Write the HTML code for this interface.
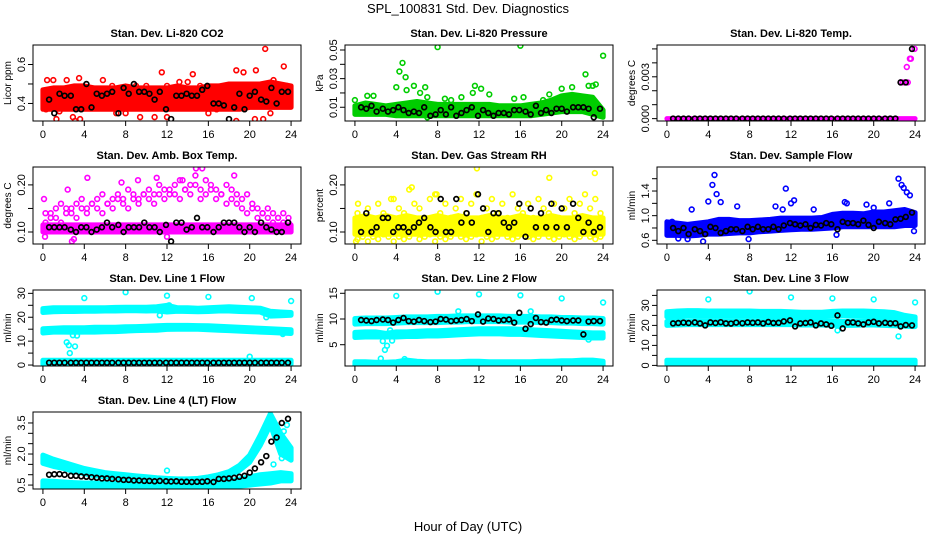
<!DOCTYPE html>
<html><head><meta charset="utf-8"><title>SPL_100831 Std. Dev. Diagnostics</title>
<style>
html,body{margin:0;padding:0;background:#fff;}
svg{display:block;font-family:"Liberation Sans",Arial,sans-serif;}
</style></head>
<body>
<svg id="chart" width="936" height="540" viewBox="0 0 936 540" xmlns="http://www.w3.org/2000/svg">
<rect x="0" y="0" width="936" height="540" fill="#fff"/>
<text x="468" y="13" text-anchor="middle" font-size="13">SPL_100831  Std. Dev. Diagnostics</text>
<text x="468" y="531" text-anchor="middle" font-size="13">Hour of Day (UTC)</text>
</svg>
<script>
// ---- shared time grids ----
const hourGrid = [0,1,2,3,4,5,6,7,8,9,10,11,12,13,14,15,16,17,18,19,20,21,22,23,24];
const hoursK = [0.6,1.1,1.6,2.1,2.7,3.2,3.7,4.2,4.7,5.2,5.7,6.2,6.7,7.3,7.8,8.3,8.8,9.3,9.8,10.3,10.8,11.3,11.9,12.4,12.9,13.4,13.9,14.4,14.9,15.4,15.9,16.5,17.0,17.5,18.0,18.5,19.0,19.5,20.0,20.5,21.1,21.6,22.1,22.6,23.1,23.7];
const halfGrid = [0.25,0.75,1.25,1.75,2.25,2.75,3.25,3.75,4.25,4.75,5.25,5.75,6.25,6.75,7.25,7.75,8.25,8.75,9.25,9.75,10.25,10.75,11.25,11.75,12.25,12.75,13.25,13.75,14.25,14.75,15.25,15.75,16.25,16.75,17.25,17.75,18.25,18.75,19.25,19.75,20.25,20.75,21.25,21.75,22.25,22.75,23.25,23.75];
const xTicks = [0,4,8,12,16,20,24];

// ---- CO2 ----
const co2Lo = [0.37,0.37,0.37,0.37,0.37,0.37,0.37,0.37,0.37,0.37,0.37,0.37,0.37,0.37,0.37,0.37,0.37,0.37,0.37,0.37,0.38,0.38,0.38,0.38,0.38];
const co2Hi = [0.47,0.48,0.48,0.49,0.49,0.48,0.48,0.48,0.49,0.48,0.48,0.48,0.48,0.49,0.48,0.48,0.49,0.49,0.50,0.50,0.50,0.50,0.51,0.50,0.49];
const co2OutX = [0.3,0.4,1,2.3,3.5,5.8,7.1,6.7,9,10,11.5,12,13.2,14,14.5,15.2,18.7,19.4,20.6,21.5,21.3,22.3,23.3,23.6,1.3,3.1,3.6,17.8,18.7,20.5,16,1.6,9.4,10.8,12,2.9,22,16.8,8];
const co2OutY = [0.37,0.52,0.52,0.52,0.53,0.52,0.35,0.49,0.49,0.49,0.56,0.49,0.51,0.51,0.55,0.49,0.57,0.56,0.57,0.68,0.32,0.52,0.59,0.49,0.32,0.31,0.32,0.29,0.31,0.32,0.35,0.36,0.33,0.33,0.33,0.33,0.35,0.37,0.35];
const co2K = [0.42,0.35,0.45,0.44,0.44,0.37,0.37,0.50,0.38,0.45,0.44,0.45,0.46,0.35,0.48,0.45,0.50,0.46,0.46,0.45,0.42,0.46,0.37,0.32,0.44,0.44,0.45,0.44,0.44,0.47,0.49,0.40,0.40,0.39,0.32,0.38,0.45,0.37,0.44,0.46,0.42,0.41,0.48,0.40,0.46,0.46];

// ---- Pressure ----
const presLo = [0.005,0.005,0.005,0.005,0.004,0.004,0.004,0.004,0.004,0.004,0.004,0.004,0.004,0.004,0.004,0.004,0.004,0.004,0.005,0.006,0.007,0.007,0.007,0.005,0.003];
const presHi = [0.011,0.013,0.012,0.011,0.012,0.013,0.014,0.013,0.012,0.012,0.012,0.012,0.012,0.012,0.011,0.011,0.011,0.012,0.013,0.015,0.018,0.019,0.018,0.017,0.008];
const presOutX = [0,1.2,1.8,4,4.3,4.6,4.9,5,5.7,6.3,6.8,7,8,8.7,9.3,10.3,11.4,11.6,12.2,13,15.4,16,16.3,18.2,18.8,20,21,22.3,22.6,23,23.3,24,0.6,7];
const presOutY = [0.015,0.018,0.018,0.024,0.035,0.041,0.031,0.022,0.025,0.02,0.024,0.017,0.052,0.016,0.015,0.017,0.02,0.025,0.023,0.019,0.016,0.053,0.017,0.015,0.019,0.023,0.024,0.033,0.025,0.025,0.026,0.046,0.007,0.003];
const presK = [0.010,0.009,0.011,0.007,0.009,0.007,0.008,0.010,0.008,0.006,0.007,0.006,0.010,0.004,0.005,0.008,0.005,0.010,0.004,0.006,0.008,0.010,0.004,0.008,0.006,0.004,0.006,0.006,0.005,0.008,0.008,0.007,0.005,0.011,0.006,0.008,0.006,0.009,0.009,0.007,0.010,0.010,0.010,0.009,0.003,0.009];

// ---- Li-820 Temp ----
const tmpLo = [0,0,0,0,0,0,0,0,0,0,0,0,0,0,0,0,0,0,0,0,0,0,0,0,0];
const tmpHi = [0,0,0,0,0,0,0,0,0,0,0,0,0,0,0,0,0,0,0,0,0,0,0,0,0];
const tmpOutX = [22.6,22.8,23.0,23.2,23.3,23.5,23.6,23.95];
const tmpOutY = [0.0026,0.0026,0.0026,0.0037,0.0026,0.0043,0.0043,0.005];
const tmpK = [0,0,0,0,0,0,0,0,0,0,0,0,0,0,0,0,0,0,0,0,0,0,0,0,0,0,0,0,0,0,0,0,0,0,0,0,0,0,0,0,0,0,0,0.0026,0.0026,0.005];

// ---- Amb Box Temp ----
const ambLo = [0.10,0.10,0.10,0.10,0.10,0.10,0.10,0.10,0.10,0.10,0.10,0.10,0.10,0.10,0.10,0.10,0.10,0.10,0.10,0.10,0.10,0.10,0.10,0.10,0.10];
const ambHi = [0.115,0.115,0.115,0.115,0.115,0.115,0.115,0.115,0.115,0.115,0.115,0.115,0.115,0.115,0.115,0.115,0.115,0.115,0.115,0.115,0.115,0.115,0.115,0.115,0.115];
const ambU1 = [0.14,0.13,0.15,0.16,0.14,0.15,0.16,0.17,0.15,0.16,0.17,0.18,0.16,0.17,0.18,0.17,0.19,0.18,0.17,0.18,0.19,0.18,0.20,0.19,0.18,0.20,0.21,0.19,0.20,0.22,0.19,0.21,0.20,0.19,0.18,0.20,0.19,0.18,0.17,0.18,0.16,0.15,0.14,0.15,0.14,0.13,0.14,0.13];
const ambU2 = [0.12,0.14,0.13,0.12,0.15,0.14,0.13,0.15,0.14,0.16,0.15,0.14,0.16,0.15,0.17,0.16,0.15,0.17,0.16,0.18,0.17,0.16,0.18,0.17,0.19,0.18,0.17,0.19,0.18,0.20,0.17,0.18,0.19,0.17,0.18,0.16,0.17,0.16,0.15,0.14,0.15,0.13,0.14,0.13,0.12,0.13,0.12,0.12];
const ambOutX = [0.2,3,2.8,12,4.3,7.6,14.8,15.4,18.5,2.4,0.1,9.2,11,13.5];
const ambOutY = [0.09,0.085,0.08,0.09,0.215,0.205,0.235,0.235,0.22,0.19,0.17,0.21,0.215,0.21];
const ambK = [0.11,0.11,0.11,0.11,0.105,0.10,0.11,0.11,0.10,0.105,0.11,0.12,0.11,0.115,0.10,0.11,0.11,0.11,0.12,0.11,0.11,0.10,0.115,0.08,0.12,0.12,0.105,0.11,0.13,0.11,0.11,0.10,0.11,0.12,0.12,0.12,0.11,0.10,0.11,0.10,0.12,0.11,0.105,0.10,0.10,0.12];

// ---- Gas Stream RH ----
const rhLo = [0.095,0.095,0.095,0.095,0.095,0.095,0.095,0.095,0.095,0.095,0.095,0.095,0.095,0.095,0.095,0.095,0.095,0.095,0.095,0.095,0.095,0.095,0.095,0.095,0.095];
const rhHi = [0.13,0.135,0.13,0.135,0.13,0.135,0.13,0.13,0.135,0.13,0.135,0.13,0.13,0.135,0.13,0.13,0.135,0.13,0.13,0.135,0.13,0.13,0.135,0.13,0.13];
const rhA = [0.14,0.13,0.15,0.12,0.16,0.14,0.13,0.17,0.15,0.14,0.19,0.16,0.15,0.13,0.17,0.18,0.14,0.16,0.13,0.15,0.17,0.14,0.16,0.18,0.13,0.15,0.17,0.14,0.16,0.13,0.18,0.15,0.14,0.16,0.13,0.17,0.15,0.14,0.16,0.13,0.15,0.17,0.14,0.16,0.18,0.15,0.17,0.14];
const rhB = [0.085,0.09,0.08,0.09,0.085,0.095,0.09,0.08,0.09,0.085,0.09,0.10,0.085,0.09,0.095,0.08,0.09,0.085,0.09,0.10,0.09,0.085,0.09,0.095,0.08,0.09,0.085,0.09,0.10,0.09,0.085,0.09,0.095,0.09,0.085,0.09,0.10,0.09,0.085,0.09,0.095,0.09,0.085,0.09,0.10,0.09,0.085,0.09];
const rhOutX = [11.8,23.2,18.8,5.5,3.5,7.9,0.3,0.1];
const rhOutY = [0.235,0.225,0.215,0.195,0.17,0.18,0.16,0.08];
const rhK = [0.10,0.14,0.10,0.11,0.13,0.13,0.10,0.11,0.11,0.10,0.11,0.12,0.13,0.11,0.10,0.17,0.10,0.10,0.17,0.12,0.14,0.12,0.18,0.15,0.10,0.14,0.14,0.12,0.11,0.12,0.16,0.09,0.15,0.11,0.14,0.11,0.16,0.11,0.15,0.11,0.16,0.13,0.10,0.12,0.10,0.11];

// ---- Sample Flow ----
const sfLo = [0.68,0.68,0.67,0.68,0.70,0.70,0.71,0.72,0.72,0.74,0.75,0.76,0.77,0.78,0.78,0.79,0.80,0.82,0.82,0.82,0.82,0.82,0.82,0.84,0.84];
const sfHi = [0.90,0.88,0.86,0.88,0.90,0.94,0.94,0.92,0.92,0.93,0.94,0.96,0.96,0.96,0.96,0.97,1.02,1.04,1.04,1.03,1.06,1.06,1.08,1.10,1.05];
const sfOutX = [0.5,1.1,2,2.4,3.5,4,4.4,4.6,4.8,5.2,6.8,7.9,10.5,11.2,11.5,12.3,12,14.2,16.4,17.2,17.4,19.3,21.5,22.4,22.7,22.9,23.2,23.5,23.9,20];
const sfOutY = [0.9,0.63,0.62,1.1,0.58,1.23,1.5,1.66,1.35,1.22,1.15,0.62,1.15,1.1,1.44,1.25,1.2,1.1,0.69,1.22,1.2,1.18,1.2,1.6,1.5,1.45,1.38,1.33,0.75,1.13];
const sfK = [0.80,0.75,0.80,0.70,0.78,0.75,0.70,0.82,0.80,0.72,0.75,0.78,0.78,0.75,0.82,0.78,0.82,0.78,0.78,0.82,0.78,0.84,0.88,0.86,0.84,0.86,0.80,0.85,0.84,0.88,0.86,0.78,0.90,0.88,0.88,0.86,0.92,0.85,0.80,0.90,0.88,0.86,0.94,0.95,0.98,1.05];

// ---- Line 1 Flow ----
const l1aLo = [22,22.3,22.4,22.4,22.5,22.5,22.6,22.6,22.7,22.7,22.6,22.7,22.2,22.5,22.4,22.3,22.4,22.6,22.6,22.4,22.3,22.2,20.5,20.6,20.8];
const l1aHi = [23.6,24,24,24,24,24,24,24.1,24.2,24.2,24.2,24.4,25,24,24,23.8,24,24.2,24.4,24.2,24,23.8,22.5,22.2,22];
const l1bLo = [13.4,13.8,13.8,13.7,13.8,13.8,13.9,14,14.2,14.4,14.5,14.6,14.9,15,15,15,14.8,14.6,14.4,14.2,14,13.8,13.6,13.4,13.2];
const l1bHi = [15.2,15.4,15.6,15.6,15.6,15.8,15.8,15.8,16,16.1,16.2,16.4,16.6,16.6,16.6,16.5,16.4,16.2,16,15.8,15.6,15.4,15.2,15,14.8];
const l1cLo = [0.3,0.3,0.3,0.3,0.3,0.3,0.3,0.3,0.3,0.3,0.3,0.3,0.3,0.3,0.3,0.3,0.3,0.3,0.3,0.3,0.3,0.3,0.3,0.3,0.3];
const l1cHi = [2,2,2,2,2,2,2,2,2,2,2,2,2,2,2,2,2,2,2,2,2,2,2,2,2];
const l1OutX = [2.3,2.5,2.6,2.9,3.1,3.3,3.5,4,8,12,16,20,20.2,24,11.3,12.2,21.6,23.2];
const l1OutY = [9.5,8.3,5,12.5,7.8,12.3,15,28,30.5,29,28.5,3.5,28,26.8,20.8,25,20,13];
const l1K = [1,1,1,1,1,1,1,1,1,1,1,1,1,1,1,1,1,1,1,1,1,1,1,1,1,1,1,1,1,1,1,1,1,1,1,1,1,1,1,1,1,1,1,1,1,1];

// ---- Line 2 Flow ----
const l2aLo = [9.0,9.1,9.1,9.1,9.2,9.3,9.3,9.3,9.3,9.4,9.4,9.5,9.5,9.5,9.5,9.4,9.4,9.4,9.3,9.3,9.2,9.2,9.1,9.1,9.0];
const l2aHi = [10.1,10.2,10.2,10.2,10.3,10.4,10.4,10.4,10.5,10.5,10.6,10.6,10.6,10.6,10.6,10.5,10.5,10.5,10.4,10.4,10.3,10.3,10.2,10.2,10.1];
const l2bLo = [6.4,6.5,6.5,6.5,6.5,6.6,6.6,6.7,6.7,6.8,6.9,7.0,7.1,7.1,7.1,7.0,7.0,6.9,6.8,6.7,6.6,6.5,6.4,6.3,6.3];
const l2bHi = [7.4,7.5,7.5,7.2,7.5,7.5,7.6,7.7,7.7,7.8,7.9,8.0,8.1,8.1,8.1,8.1,8.0,7.9,7.8,7.7,7.6,7.5,7.4,7.3,7.3];
const l2cLo = [0.9,0.9,0.9,0.9,0.9,0.9,0.9,0.9,0.9,0.9,0.9,0.9,0.9,0.9,0.9,0.9,0.9,0.9,0.9,0.9,0.9,0.9,0.9,0.9,0.9];
const l2cHi = [1.7,1.7,1.6,1.6,1.7,2.0,1.8,1.7,1.7,1.7,1.7,1.8,1.8,1.7,1.7,1.7,1.7,1.7,1.8,1.8,1.9,1.9,2.0,2.0,1.8];
const l2OutX = [2.5,2.7,2.9,3.1,3.4,3.6,4,8,12,16,20,24,10,17,22.6,4.8];
const l2OutY = [2.3,5.7,4,4.8,7.8,5.8,14.5,15.3,14.8,14.6,14,13.2,11.5,11.5,6,2.2];
const l2K = [9.8,9.7,9.6,9.8,9.9,9.8,9.3,9.8,10.2,9.6,9.5,9.8,9.6,9.4,9.5,10,9.9,9.6,9.7,9.8,10,9.6,10.9,9.5,10.1,10.0,9.7,9.8,9.9,9.3,11.2,8.1,9.0,10.2,9.4,9.3,9.8,9.9,9.7,9.6,9.7,9.7,7.0,9.5,9.6,9.6];

// ---- Line 3 Flow ----
const l3aLo = [24.3,24.6,24.8,24.8,24.8,24.8,24.8,24.8,24.8,24.8,24.6,24.6,24.4,24.4,24.4,24.4,24.6,24.8,24.8,24.8,24.6,24.4,23.8,22.5,22.0];
const l3aHi = [26.8,27.2,27.4,27.4,27.2,27.2,27.2,27.2,27.2,27.0,27.0,27.0,26.8,26.6,26.6,26.6,27.0,27.2,27.2,27.2,27.0,26.8,26.4,25.0,24.2];
const l3bLo = [20.0,20.2,20.4,20.4,20.4,20.4,20.4,20.4,20.4,20.4,20.4,20.4,20.4,20.2,20.2,20.2,20.0,20.0,20.0,20.2,20.2,20.0,19.8,19.6,19.4];
const l3bHi = [22.0,22.2,22.2,22.4,22.4,22.4,22.4,22.4,22.4,22.4,22.4,22.4,22.4,22.2,22.2,22.2,22.0,22.0,22.2,22.4,22.4,22.2,22.0,21.6,21.2];
const l3cLo = [0.6,0.6,0.6,0.6,0.6,0.6,0.6,0.6,0.6,0.6,0.6,0.6,0.6,0.6,0.6,0.6,0.6,0.6,0.6,0.6,0.6,0.6,0.6,0.6,0.6];
const l3cHi = [2.6,2.6,2.6,2.6,2.6,2.6,2.6,2.6,2.6,2.6,2.6,2.6,2.6,2.6,2.6,2.6,2.6,2.6,2.6,2.6,2.6,2.6,2.6,2.6,2.6];
const l3OutX = [4,8,12,16,20,24,22.4,16.5];
const l3OutY = [33,37,34,33.5,33,31.5,14.5,17.5];
const l3K = [21,21.2,21.4,21.2,21.5,21,20,21.5,21.2,21.6,21,20.9,21.4,21.1,21.5,21.3,21.5,21,21.7,21.2,21.3,22,22.5,19.5,21,21.2,21.5,20,21,20.5,19.8,25,18.5,21.5,21.5,21,20.5,21.5,21.8,21,21.3,21,21.1,19.5,20.2,20];

// ---- Line 4 (LT) Flow ----
const l4aLo = [1.55,1.4,1.3,1.15,1.05,0.95,0.9,0.85,0.8,0.75,0.7,0.68,0.65,0.62,0.62,0.65,0.72,0.8,0.95,1.2,1.6,2.4,3.4,2.0,1.7];
const l4aHi = [1.95,1.75,1.6,1.45,1.3,1.2,1.1,1.05,1.0,0.95,0.9,0.85,0.82,0.8,0.8,0.82,0.9,1.0,1.15,1.45,1.95,2.9,3.95,3.0,2.3];
const l4bLo = [0.38,0.38,0.38,0.38,0.38,0.38,0.38,0.38,0.38,0.38,0.38,0.38,0.38,0.38,0.38,0.38,0.38,0.38,0.4,0.45,0.5,0.55,0.6,0.7,0.7];
const l4bHi = [0.7,0.68,0.65,0.62,0.6,0.6,0.58,0.58,0.57,0.56,0.55,0.55,0.55,0.55,0.55,0.55,0.6,0.65,0.7,0.8,0.9,1.0,1.05,1.1,1.05];
const l4OutX = [12,23.9,22.3,23.1,23.5,23.3,23.6];
const l4OutY = [1.2,0.85,1.5,1.8,2.2,3.1,3.4];
const l4K = [1.0,1.02,1.03,1.0,0.95,0.95,0.92,0.9,0.88,0.85,0.82,0.82,0.8,0.78,0.75,0.75,0.72,0.72,0.7,0.7,0.68,0.7,0.68,0.67,0.68,0.66,0.66,0.65,0.66,0.66,0.68,0.65,0.8,0.8,0.82,0.85,0.9,0.95,1.1,1.3,1.6,1.9,2.6,2.8,3.5,3.7];

const NS = "http://www.w3.org/2000/svg";
const svg = document.getElementById('chart');
const colLeft = [33, 345, 657];
const rowBox = [[45,121],[167,244],[290,366],[412,489]];
const BOXW = 268;
const RAD = 2.4;

function mk(tag, attrs, parent) {
  const e = document.createElementNS(NS, tag);
  for (const k in attrs) e.setAttribute(k, attrs[k]);
  (parent || svg).appendChild(e);
  return e;
}

const panels = [
  {name:'co2', col:0,row:0,title:'Stan. Dev. Li-820 CO2',ylab:'Licor ppm',color:'#ff0000',yt:0.70,yb:0.31,ticks:[0.4,0.5,0.6],labels:{0.4:'0.4',0.6:'0.6'},
   bands:[[co2Lo,co2Hi]],scat:[],outX:co2OutX,outY:co2OutY,k:co2K},
  {name:'pressure', col:1,row:0,title:'Stan. Dev. Li-820 Pressure',ylab:'kPa',color:'#00cd00',yt:0.0535,yb:0.0004,ticks:[0.01,0.02,0.03,0.04,0.05],labels:{0.01:'0.01',0.03:'0.03',0.05:'0.05'},
   bands:[[presLo,presHi]],scat:[],outX:presOutX,outY:presOutY,k:presK},
  {name:'li820-temp', col:2,row:0,title:'Stan. Dev. Li-820 Temp.',ylab:'degrees C',color:'#ff00ff',yt:0.00528,yb:-0.00017,ticks:[0,0.001,0.002,0.003,0.004,0.005],labels:{0:'0.000',0.003:'0.003'},
   bands:[[tmpLo,tmpHi]],scat:[],outX:tmpOutX,outY:tmpOutY,k:tmpK},
  {name:'amb-box-temp', col:0,row:1,title:'Stan. Dev. Amb. Box Temp.',ylab:'degrees C',color:'#ff00ff',yt:0.238,yb:0.0745,ticks:[0.10,0.15,0.20],labels:{0.1:'0.10',0.2:'0.20'},
   bands:[[ambLo,ambHi]],scat:[ambU1,ambU2],outX:ambOutX,outY:ambOutY,k:ambK},
  {name:'gas-stream-rh', col:1,row:1,title:'Stan. Dev. Gas Stream RH',ylab:'percent',color:'#ffff00',yt:0.238,yb:0.0745,ticks:[0.10,0.15,0.20],labels:{0.1:'0.10',0.2:'0.20'},
   bands:[[rhLo,rhHi]],scat:[rhA,rhB],outX:rhOutX,outY:rhOutY,k:rhK},
  {name:'sample-flow', col:2,row:1,title:'Stan. Dev. Sample Flow',ylab:'ml/min',color:'#0000ff',yt:1.79,yb:0.54,ticks:[0.6,0.8,1.0,1.2,1.4,1.6],labels:{0.6:'0.6',1:'1.0',1.4:'1.4'},
   bands:[[sfLo,sfHi]],scat:[],outX:sfOutX,outY:sfOutY,k:sfK},
  {name:'line1-flow', col:0,row:2,title:'Stan. Dev. Line 1 Flow',ylab:'ml/min',color:'#00ffff',yt:31.4,yb:-0.4,ticks:[0,5,10,15,20,25,30],labels:{0:'0',10:'10',20:'20',30:'30'},
   bands:[[l1aLo,l1aHi],[l1bLo,l1bHi],[l1cLo,l1cHi]],scat:[],outX:l1OutX,outY:l1OutY,k:l1K},
  {name:'line2-flow', col:1,row:2,title:'Stan. Dev. Line 2 Flow',ylab:'ml/min',color:'#00ffff',yt:15.64,yb:0.86,ticks:[5,10,15],labels:{5:'5',10:'10',15:'15'},
   bands:[[l2aLo,l2aHi],[l2bLo,l2bHi],[l2cLo,l2cHi]],scat:[],outX:l2OutX,outY:l2OutY,k:l2K},
  {name:'line3-flow', col:2,row:2,title:'Stan. Dev. Line 3 Flow',ylab:'ml/min',color:'#00ffff',yt:37.7,yb:-0.3,ticks:[0,5,10,15,20,25,30,35],labels:{0:'0',10:'10',20:'20',30:'30'},
   bands:[[l3aLo,l3aHi],[l3bLo,l3bHi],[l3cLo,l3cHi]],scat:[],outX:l3OutX,outY:l3OutY,k:l3K},
  {name:'line4-flow', col:0,row:3,title:'Stan. Dev. Line 4 (LT) Flow',ylab:'ml/min',color:'#00ffff',yt:4.03,yb:0.31,ticks:[0.5,1.0,1.5,2.0,2.5,3.0,3.5],labels:{0.5:'0.5',2:'2.0',3.5:'3.5'},
   bands:[[l4aLo,l4aHi],[l4bLo,l4bHi]],scat:[],outX:l4OutX,outY:l4OutY,k:l4K}
];

panels.forEach(p => {
  const L = colLeft[p.col], T = rowBox[p.row][0], B = rowBox[p.row][1];
  const xs = h => L + (h + 0.96) / 25.92 * BOXW;
  const ys = v => B - (v - p.yb) / (p.yt - p.yb) * (B - T);
  const g = mk('g', {});
  
  
  const clipId = 'clip-' + p.name;
  const cp = mk('clipPath', {id: clipId}, g);
  mk('rect', {x: L, y: T, width: BOXW, height: B - T}, cp);
  const plot = mk('g', {'clip-path': 'url(#' + clipId + ')'}, g);

  p.bands.forEach((bd, bi) => {
    const lo = bd[0], hi = bd[1];
    let pts = [];
    hourGrid.forEach((h, i) => pts.push(xs(h).toFixed(1) + ',' + ys(hi[i]).toFixed(1)));
    for (let i = hourGrid.length - 1; i >= 0; i--) pts.push(xs(hourGrid[i]).toFixed(1) + ',' + ys(lo[i]).toFixed(1));
    const poly = mk('polygon', {points: pts.join(' '), fill: p.color, stroke: p.color, 'stroke-width': 5, 'stroke-linejoin': 'round'}, plot);
    
    
  });
  p.scat.forEach(arr => {
    arr.forEach((v, i) => {
      const c = mk('circle', {cx: xs(halfGrid[i]).toFixed(1), cy: ys(v).toFixed(1), r: RAD, fill: 'none', stroke: p.color, 'stroke-width': 1.6}, plot);
      
      
    });
  });
  p.outX.forEach((x, i) => {
    const c = mk('circle', {cx: xs(x).toFixed(1), cy: ys(p.outY[i]).toFixed(1), r: RAD, fill: 'none', stroke: p.color, 'stroke-width': 1.6}, plot);
    
    
  });
  const n = Math.min(hoursK.length, p.k.length);
  for (let i = 0; i < n; i++) {
    const c = mk('circle', {cx: xs(hoursK[i]).toFixed(1), cy: ys(p.k[i]).toFixed(1), r: RAD, fill: 'none', stroke: '#000', 'stroke-width': 1.7}, plot);
    
    
  }

  const box = mk('rect', {x: L, y: T, width: BOXW, height: B - T, fill: 'none', stroke: '#000', 'stroke-width': 1}, g);
  
  

  const t = mk('text', {x: L + BOXW / 2, y: T - 8, 'text-anchor': 'middle', 'font-size': 11, 'font-weight': 'bold'}, g);
  t.textContent = p.title;
  
  

  xTicks.forEach(h => {
    const x = xs(h);
    mk('line', {x1: x, x2: x, y1: B, y2: B + 5, stroke: '#000'}, g);
    const tl = mk('text', {x: x, y: B + 17, 'text-anchor': 'middle', 'font-size': 11}, g);
    tl.textContent = String(h);
    
    
  });

  p.ticks.forEach(v => {
    const y = ys(v);
    mk('line', {x1: L - 5, x2: L, y1: y, y2: y, stroke: '#000'}, g);
    const key = Object.keys(p.labels).find(k => Math.abs(parseFloat(k) - v) < 1e-9);
    if (key !== undefined) {
      const tl = mk('text', {x: 0, y: 0, 'text-anchor': 'middle', 'font-size': 11, transform: 'translate(' + (L - 8) + ',' + y.toFixed(1) + ') rotate(-90)'}, g);
      tl.textContent = p.labels[key];
      
      
    }
  });
  const yl = mk('text', {x: 0, y: 0, 'text-anchor': 'middle', 'font-size': 10, transform: 'translate(' + (L - 22) + ',' + ((T + B) / 2).toFixed(1) + ') rotate(-90)'}, g);
  yl.textContent = p.ylab;
  
  
});
</script>
</body></html>
